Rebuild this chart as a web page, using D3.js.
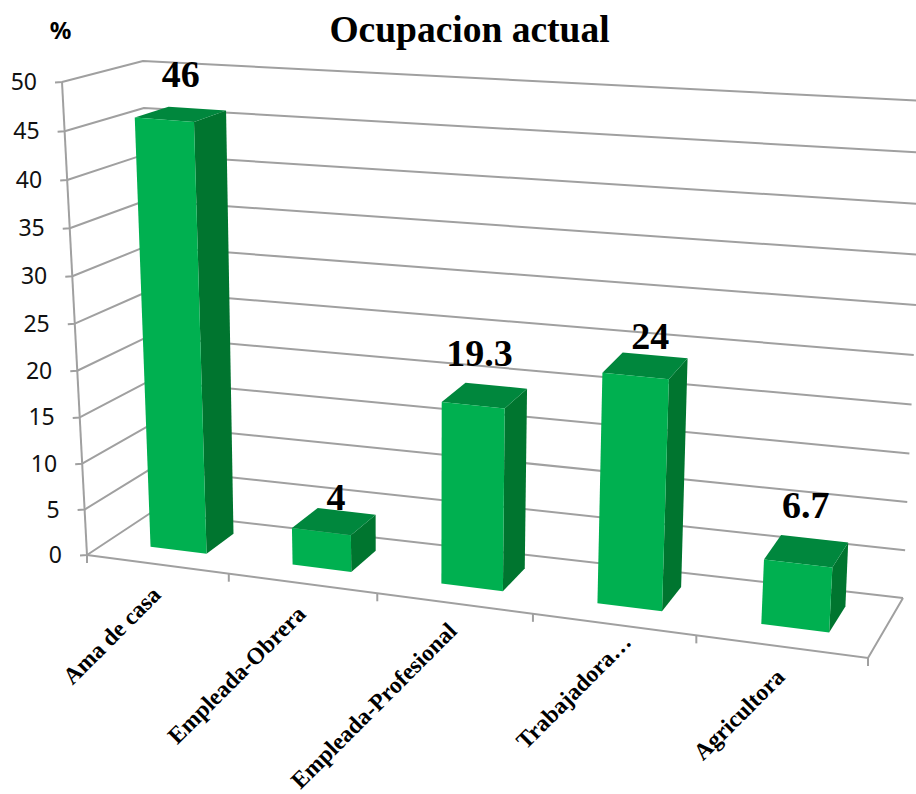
<!DOCTYPE html>
<html>
<head>
<meta charset="utf-8">
<script src="https://cdn.jsdelivr.net/npm/d3@7"></script>
<style>
html,body{margin:0;padding:0;background:#fff;}
svg{display:block;}
</style>
</head>
<body>
<svg id="chart" width="916" height="794"></svg>
<script>
const categories = ["Ama de casa", "Empleada-Obrera", "Empleada-Profesional", "Trabajadora…", "Agricultora"];
const values = [46, 4, 19.3, 24, 6.7];
const valueTicks = [0, 5, 10, 15, 20, 25, 30, 35, 40, 45, 50];
const titleText = "Ocupacion actual";
const unitText = "%";

// Screen positions of the eight corners of the plot box
const box = {
  front: { bottomL: [87, 555], bottomR: [868, 658], topL: [62, 82], topR: [899, 148] },
  back:  { bottomL: [152, 512], bottomR: [903, 598], topL: [143, 61], topR: [925, 101] }
};
const catKeystone = 0.127;   // foreshortening along the category axis
const valKeystone = 0.045;   // foreshortening along the value axis
const barSpan = [0.31, 0.71];  // bar extent inside its category slot
const barDepth = [0.32, 0.76]; // bar extent from front to back of the floor

const keystone = k => t => t / (1 + k * (1 - t));
const catFrac = d3.scaleLinear().domain([0, categories.length]).range([0, 1]);
const valFrac = d3.scaleLinear().domain([0, 50]).range([0, 1]);
const catPos = c => keystone(catKeystone)(catFrac(c));
const valPos = v => keystone(valKeystone)(valFrac(v));

// Maps (category position, value, depth) on to the page
function project(c, v, d) {
  const u = catPos(c), w = valPos(v);
  const mix = d3.interpolateArray;
  const edge = f => mix(mix(f.bottomL, f.topL)(w), mix(f.bottomR, f.topR)(w))(u);
  return mix(edge(box.front), edge(box.back))(d);
}

const svg = d3.select("#chart");
const line = d3.line();
const gridColor = "#a0a0a0";
const gridWidth = 2;

const clipId = "page";
svg.append("clipPath").attr("id", clipId).append("rect").attr("width", 916).attr("height", 794);

// Walls: left-side and back-wall gridlines
const walls = svg.append("g").attr("fill", "none").attr("stroke", gridColor)
  .attr("stroke-width", gridWidth).attr("clip-path", `url(#${clipId})`);
walls.selectAll("path.grid").data(valueTicks).join("path").attr("class", "grid")
  .attr("stroke-linejoin", "round")
  .attr("d", v => {
    const a = project(0, v, 0), b = project(0, v, 1), c = project(categories.length, v, 1);
    return line([[a[0] - 7, a[1] + 0.5], a, b, c]);
  });

// Vertical value axis on the front-left edge
walls.append("path").attr("d", line([project(0, 0, 0), project(0, 50, 0)]));

// Floor front and right edges, with the category ticks
const n = categories.length;
walls.append("path").attr("d", line([project(0, 0, 0), project(n, 0, 0), project(n, 0, 1)]));
walls.selectAll("path.tick").data(d3.range(n + 1)).join("path").attr("class", "tick")
  .attr("d", i => {
    const p = project(i, 0, 0);
    return line([p, [p[0], p[1] + 8]]);
  });

// Value axis labels
svg.append("g").attr("font-family", "'Noto Sans', sans-serif").attr("font-size", 23)
  .attr("fill", "#111").attr("text-anchor", "end")
  .selectAll("text").data(valueTicks).join("text")
  .attr("x", v => project(0, v, 0)[0] - 25)
  .attr("y", v => project(0, v, 0)[1] + 8)
  .text(v => v);

// Bars: side and top first, then the front face
const faces = [
  { fill: "#00752f", pts: ([a, b, dp, val]) => [[b, 0, dp[0]], [b, 0, dp[1]], [b, val, dp[1]], [b, val, dp[0]]] },
  { fill: "#00873d", pts: ([a, b, dp, val]) => [[a, val, dp[0]], [b, val, dp[0]], [b, val, dp[1]], [a, val, dp[1]]] },
  { fill: "#00b050", pts: ([a, b, dp, val]) => [[a, 0, dp[0]], [b, 0, dp[0]], [b, val, dp[0]], [a, val, dp[0]]] }
];
const bars = svg.append("g").selectAll("g").data(values).join("g");
faces.forEach(face => {
  bars.append("path").attr("fill", face.fill)
    .attr("d", (val, i) => line(face.pts([i + barSpan[0], i + barSpan[1], barDepth, val])
      .map(p => project(p[0], p[1], p[2]))) + "Z");
});

// Value labels sit above each bar; the nudges keep them clear of neighbouring marks
const labelNudge = [[-15, -22], [-9, -1], [-15, -20], [-3, -6], [-7, -21]];
svg.append("g").attr("font-family", "'Liberation Serif', serif").attr("font-weight", "bold")
  .attr("font-size", 38).attr("fill", "#000").attr("text-anchor", "middle")
  .selectAll("text").data(values).join("text")
  .attr("x", (v, i) => project(i + 0.5, v, barDepth[1])[0] + labelNudge[i][0])
  .attr("y", (v, i) => project(i + 0.5, v, barDepth[1])[1] + labelNudge[i][1])
  .text(v => v);

// Category labels, rotated along the diagonal
const categoryNudge = [[0, 0], [0, 0], [-1, -3], [14, -13], [0, 0]];
svg.append("g").attr("font-family", "'Liberation Serif', serif").attr("font-weight", "bold")
  .attr("font-size", 23.5).attr("fill", "#000").attr("text-anchor", "end")
  .selectAll("text").data(categories).join("text")
  .attr("transform", (c, i) => {
    const p = project(i + 0.5, 0, 0);
    return `translate(${p[0] + 5 + categoryNudge[i][0]},${p[1] + 32 + categoryNudge[i][1]}) rotate(-45)`;
  })
  .text(c => c);

// Title and unit
svg.append("text").attr("x", 469.5).attr("y", 42).attr("text-anchor", "middle")
  .attr("font-family", "'Liberation Serif', serif").attr("font-weight", "bold")
  .attr("font-size", 37.5).text(titleText);
svg.append("text").attr("x", 60.5).attr("y", 39).attr("text-anchor", "middle")
  .attr("font-family", "'Noto Sans', sans-serif").attr("font-weight", "bold")
  .attr("font-size", 24).text(unitText);
</script>
</body>
</html>
